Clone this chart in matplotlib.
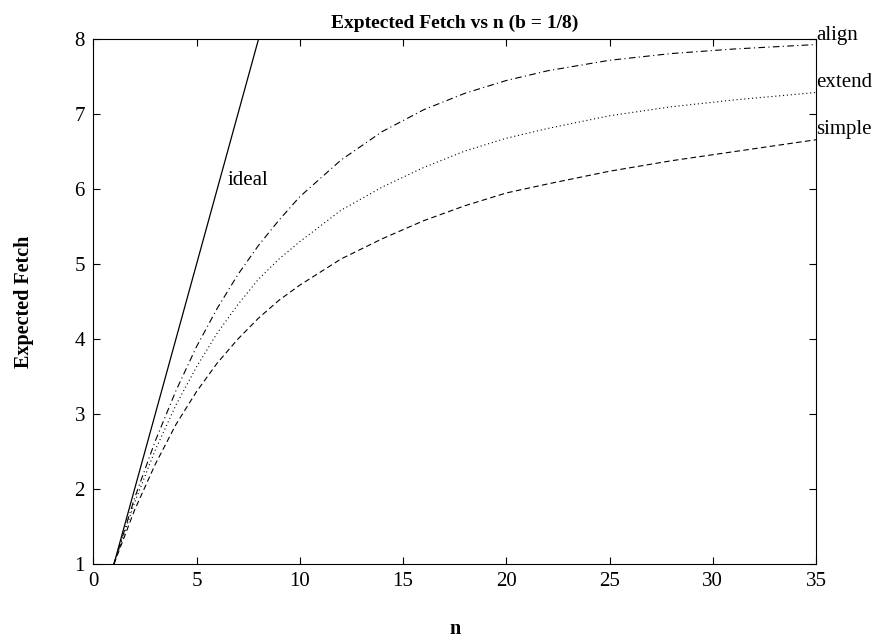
import matplotlib
matplotlib.use("Agg")
import matplotlib.pyplot as plt

# values
n_ideal = [1, 8]
ideal = [1, 8]

n_vals = [1, 2, 3, 4, 5, 6, 7, 8, 9, 10, 12, 14, 16, 18, 20, 22, 25, 28, 31, 35]
align = [1.00, 1.88, 2.64, 3.31, 3.90, 4.41, 4.86, 5.25, 5.59, 5.90,
         6.39, 6.77, 7.06, 7.28, 7.45, 7.58, 7.72, 7.81, 7.87, 7.93]
extend = [1.00, 1.82, 2.52, 3.12, 3.63, 4.08, 4.46, 4.80, 5.07, 5.30,
          5.72, 6.03, 6.29, 6.51, 6.68, 6.81, 6.98, 7.10, 7.19, 7.29]
simple = [1.00, 1.72, 2.33, 2.86, 3.30, 3.68, 4.00, 4.28, 4.52, 4.72,
          5.07, 5.34, 5.58, 5.78, 5.95, 6.07, 6.24, 6.38, 6.50, 6.66]

plt.rcParams['font.family'] = ['Liberation Serif', 'DejaVu Serif']

fig = plt.figure(figsize=(8.76, 6.41), dpi=100)
ax = fig.add_axes([0.1065, 0.1201, 0.825, 0.8186])

ax.plot(n_ideal, ideal, color='black', linewidth=0.9, linestyle='-')
ax.plot(n_vals, align, color='black', linewidth=0.8, linestyle=(0, (6, 3, 1, 3)))
ax.plot(n_vals, extend, color='black', linewidth=0.8, linestyle=(0, (1, 2.5)))
ax.plot(n_vals, simple, color='black', linewidth=0.8, linestyle=(0, (5, 3)))

ax.text(6.5, 6.12, 'ideal', fontsize=15, va='center', ha='left')
ax.text(35.0, 8.05, 'align', fontsize=15, va='center', ha='left', clip_on=False)
ax.text(35.0, 7.43, 'extend', fontsize=15, va='center', ha='left', clip_on=False)
ax.text(35.0, 6.79, 'simple', fontsize=15, va='center', ha='left', clip_on=False)

ax.set_xlim(0, 35)
ax.set_ylim(1, 8)
ax.set_xticks(range(0, 36, 5))
ax.set_yticks(range(1, 9))
ax.tick_params(direction='in', length=5, width=0.8, labelsize=15,
               top=True, right=True, pad=6)
for s in ax.spines.values():
    s.set_linewidth(0.8)

ax.set_title('Exptected Fetch vs n (b = 1/8)', fontsize=14, fontweight='bold', pad=8)
ax.set_xlabel('n', fontsize=14.5, fontweight='bold', labelpad=20)
ax.set_ylabel('Expected Fetch', fontsize=14.5, fontweight='bold', labelpad=29)

fig.savefig('out.png', dpi=100)
